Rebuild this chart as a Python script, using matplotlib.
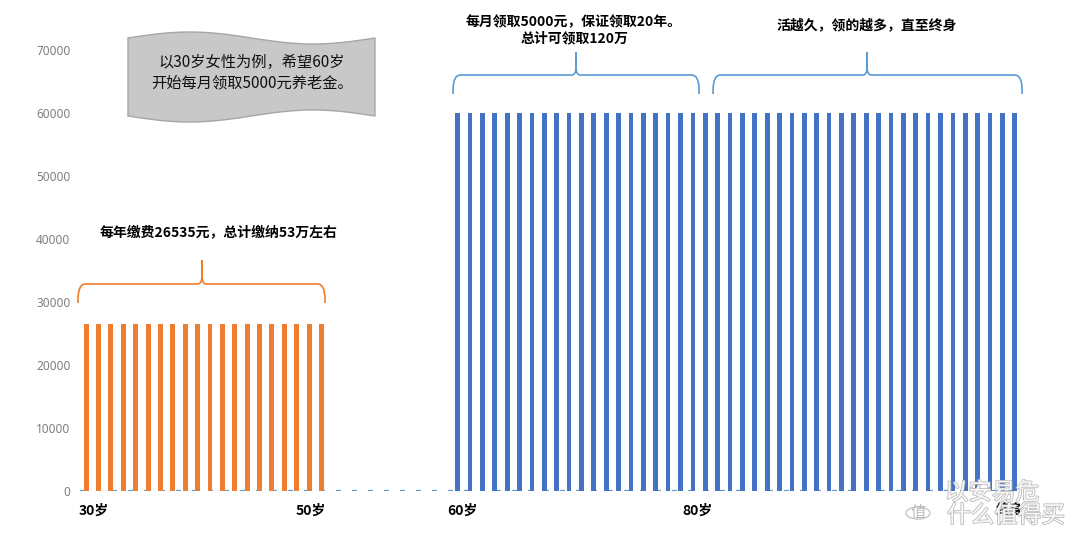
import numpy as np
import matplotlib
matplotlib.use("Agg")
import matplotlib.pyplot as plt
from matplotlib.path import Path
from matplotlib.patches import PathPatch, Polygon, Circle
import matplotlib.patheffects as pe

plt.rcParams['font.family'] = ['Noto Sans CJK SC', 'DejaVu Sans']

# data
ages = np.arange(30, 106)
pay_ages = np.arange(30, 50)
pay_values = [26535] * len(pay_ages)
get_ages = np.arange(60, 106)
get_values = [60000] * len(get_ages)

y_ticks = [0, 10000, 20000, 30000, 40000, 50000, 60000, 70000]
age_labels = ["30岁", "50岁", "60岁", "80岁", "终身"]
age_label_pos = [30.6, 48.1, 60.4, 79.35, 104.6]

orange = "#ed7d31"
blue = "#4472c4"
light_blue = "#5b9bd5"

fig = plt.figure(figsize=(10.8, 5.42), dpi=100)
ax = fig.add_axes([80 / 1080, 51 / 542, 941 / 1080, 491 / 542])

ax.set_xlim(29.5, 105.5)
ax.set_ylim(0, 77940)

ax.axhline(0, color=light_blue, lw=1.6, linestyle=(0, (2.2, 5.0)), zorder=1)
ax.bar(pay_ages, pay_values, width=0.4, color=orange, zorder=2)
ax.bar(get_ages, get_values, width=0.38, color=blue, zorder=2)

for s in ax.spines.values():
    s.set_visible(False)
ax.set_xticks([])
ax.set_yticks(y_ticks)
ax.set_yticklabels([str(v) for v in y_ticks], family=['Noto Sans', 'DejaVu Sans'],
                   fontsize=8.5, color="#7f7f7f")
ax.tick_params(axis='y', length=0, pad=7)

for lab, x in zip(age_labels, age_label_pos):
    ax.text(x, -3100, lab, ha='center', va='center', fontsize=10,
            fontweight='bold', color='black', clip_on=False)


def brace(x0, x1, xc, yb, ym, yt, color):
    cdx, cdy = 0.6, 2400
    pdx, pdy = 0.35, 1300
    verts = [(x0, yb), (x0, ym - cdy), (x0, ym), (x0 + cdx, ym),
             (xc - pdx, ym), (xc, ym), (xc, ym + pdy), (xc, yt),
             (xc, ym + pdy), (xc, ym), (xc + pdx, ym),
             (x1 - cdx, ym), (x1, ym), (x1, ym - cdy), (x1, yb)]
    codes = [Path.MOVETO, Path.LINETO, Path.CURVE3, Path.CURVE3,
             Path.LINETO, Path.CURVE3, Path.CURVE3, Path.LINETO,
             Path.LINETO, Path.CURVE3, Path.CURVE3,
             Path.LINETO, Path.CURVE3, Path.CURVE3, Path.LINETO]
    ax.add_patch(PathPatch(Path(verts, codes), fill=False, edgecolor=color,
                           lw=1.2, clip_on=False, zorder=3))


brace(29.34, 49.29, 39.35, 29840, 32860, 36670, orange)
brace(59.63, 79.5, 69.56, 63020, 66030, 69680, light_blue)
brace(80.63, 105.59, 93.07, 63020, 66030, 69680, light_blue)

ax.text(40.7, 41100, "每年缴费26535元，总计缴纳53万左右", ha='center', va='center',
        fontsize=10, fontweight='bold')
ax.text(69.4, 73200, "每月领取5000元，保证领取20年。\n总计可领取120万", ha='center',
        va='center', fontsize=10, fontweight='bold', linespacing=1.2)
ax.text(93.07, 74000, "活越久，领的越多，直至终身", ha='center', va='center',
        fontsize=10, fontweight='bold')

# wavy banner
t = np.linspace(0, 1, 60)
bx = 128 + (375 - 128) * t
top = 38 - 6 * np.sin(2 * np.pi * t)
bot = 116 + 6 * np.sin(2 * np.pi * t)
px = np.concatenate([bx, bx[::-1]])
py = np.concatenate([top, bot[::-1]])
fig.patches.append(Polygon(np.column_stack([px / 1080, 1 - py / 542]), closed=True,
                           transform=fig.transFigure, facecolor="#c8c8c8",
                           edgecolor="#a6a6a6", lw=1.0))
fig.text(252 / 1080, 1 - 72.5 / 542, "以30岁女性为例，希望60岁\n开始每月领取5000元养老金。",
         ha='center', va='center', fontsize=11, linespacing=1.25, color='#111111')

# watermark
wm = [pe.withStroke(linewidth=1.2, foreground='#b5b5b5')]
fig.text(992 / 1080, 1 - 493 / 542, "以安易危", ha='center', va='center', fontsize=17,
         color='white', alpha=0.9, path_effects=wm)
fig.text(1006 / 1080, 1 - 516 / 542, "什么值得买", ha='center', va='center', fontsize=17,
         color='white', alpha=0.9, path_effects=wm)
fig.patches.append(Circle((918 / 1080, 1 - 513 / 542), 12 / 1080, transform=fig.transFigure,
                          facecolor='white', edgecolor='#c0c0c0', lw=1.0, alpha=0.9))
fig.text(918 / 1080, 1 - 513 / 542, "值", ha='center', va='center', fontsize=11,
         color='#bbbbbb')

fig.savefig("out.png", dpi=100)
